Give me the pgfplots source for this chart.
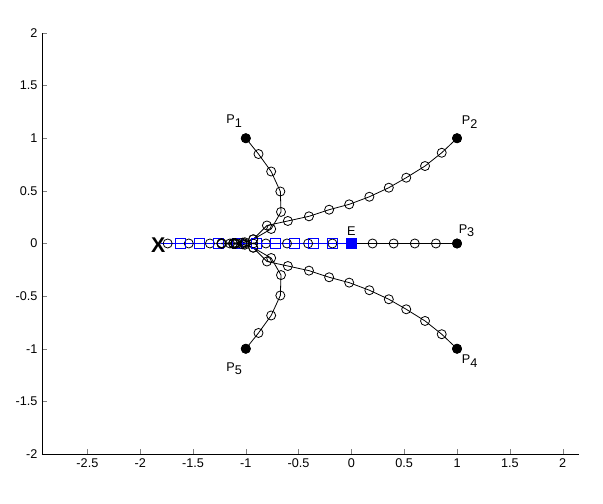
\documentclass[border=0pt]{standalone}
\usepackage{pgfplots}
\pgfplotsset{compat=1.18}
\usepackage{fontspec}
\setmainfont{Liberation Sans}
\begin{document}
\fontsize{9.5}{11}\selectfont
\begin{tikzpicture}
\begin{axis}[
  scale only axis,
  width=402.75pt, height=315.75pt,
  xmin=-2.93, xmax=2.155, ymin=-2, ymax=2,
  axis lines*=left,
  tick align=inside,
  major tick length=3.5pt,
  xtick={-2.5,-2,...,2}, ytick={-2,-1.5,...,2},
  /pgf/number format/assume math mode=true,
  ticklabel style={font=\fontsize{9.5}{11}\selectfont},
  every axis plot/.append style={line width=0.6pt},
  clip=false,
]
% P3 path along y=0
\addplot[black, mark=o, mark size=3.4pt, mark options={solid, line width=0.6pt}] coordinates {
 (1,0)(0.8,0)(0.6,0)(0.4,0)(0.2,0)(0,0)(-0.18,0)(-0.41,0)(-0.61,0)(-0.81,0)(-0.93,0)(-1.01,0)(-1.10,0)(-1.15,0)(-1.34,0)(-1.54,0)(-1.74,0)
};
% blue path E -> X
\addplot[blue, no marks, line width=0.8pt] coordinates {(0,0)(-1.80,0)};
\addplot[blue, only marks, mark=square, mark size=4pt, mark options={line width=0.75pt}] coordinates {
 (-0.18,0)(-0.36,0)(-0.54,0)(-0.72,0)(-0.90,0)(-1.08,0)(-1.26,0)(-1.44,0)(-1.62,0)
};
\addplot[blue, only marks, mark=square*, mark size=4pt] coordinates {(0,0)};
% P1 path
\addplot[black, mark=o, mark size=3.4pt, mark options={solid, line width=0.6pt}] coordinates {
 (-1,1)(-0.88,0.85)(-0.76,0.684)(-0.673,0.494)(-0.667,0.30)(-0.76,0.138)(-0.93,0.04)(-1.01,0.012)(-1.10,0.005)(-1.23,0.003)
};
% P5 path
\addplot[black, mark=o, mark size=3.4pt, mark options={solid, line width=0.6pt}] coordinates {
 (-1,-1)(-0.88,-0.85)(-0.76,-0.684)(-0.673,-0.494)(-0.667,-0.30)(-0.76,-0.138)(-0.93,-0.04)(-1.01,-0.012)(-1.10,-0.005)(-1.23,-0.003)
};
% P2 path
\addplot[black, mark=o, mark size=3.4pt, mark options={solid, line width=0.6pt}] coordinates {
 (1,1)(0.855,0.862)(0.697,0.736)(0.519,0.625)(0.354,0.530)(0.170,0.444)(-0.021,0.372)(-0.211,0.321)(-0.402,0.258)(-0.602,0.214)(-0.80,0.171)(-0.93,0.04)(-1.03,0.008)(-1.12,0.004)(-1.23,0.001)
};
% P4 path
\addplot[black, mark=o, mark size=3.4pt, mark options={solid, line width=0.6pt}] coordinates {
 (1,-1)(0.855,-0.862)(0.697,-0.736)(0.519,-0.625)(0.354,-0.530)(0.170,-0.444)(-0.021,-0.372)(-0.211,-0.321)(-0.402,-0.258)(-0.602,-0.214)(-0.80,-0.171)(-0.93,-0.04)(-1.03,-0.008)(-1.12,-0.004)(-1.23,-0.001)
};
% filled P points
\addplot[black, only marks, mark=*, mark size=3.4pt] coordinates {(-1,1)(1,1)(1,0)(1,-1)(-1,-1)};
% labels
\node at (axis cs:-1.11,1.16) {P\raisebox{-0.55ex}{1}};
\node at (axis cs:1.12,1.15) {P\raisebox{-0.55ex}{2}};
\node at (axis cs:1.09,0.12) {P\raisebox{-0.55ex}{3}};
\node at (axis cs:1.12,-1.12) {P\raisebox{-0.55ex}{4}};
\node at (axis cs:-1.11,-1.19) {P\raisebox{-0.55ex}{5}};
\node at (axis cs:0.0,0.12) {E};
\node at (axis cs:-1.83,-0.02) {\fontsize{16}{16}\selectfont\bfseries X};
\end{axis}
\path ([shift={(-31.5pt,-37.5pt)}]current axis.south west) rectangle ([shift={(18pt,24.75pt)}]current axis.north east);
\end{tikzpicture}
\end{document}
